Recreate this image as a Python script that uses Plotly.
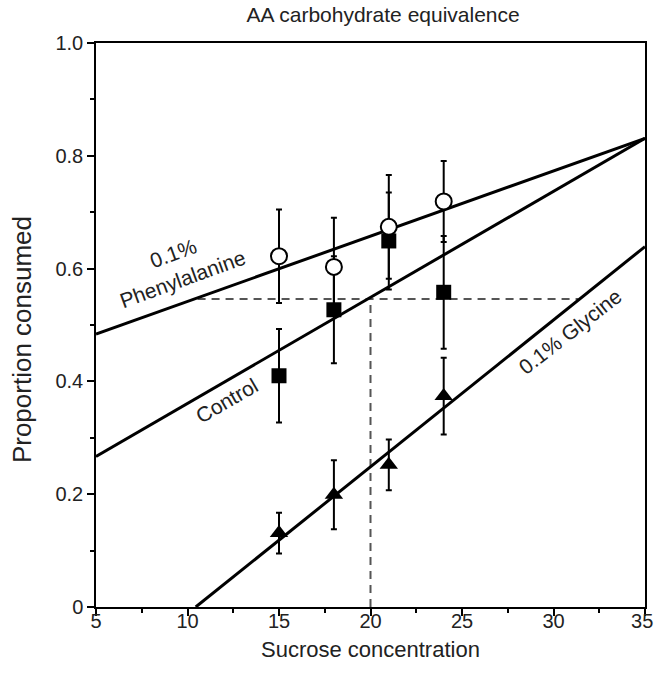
import plotly.graph_objects as go

# ---- data ----
sucrose = [15, 18, 21, 24]

phe_y = [0.622, 0.603, 0.674, 0.719]
phe_err = [0.083, 0.087, 0.092, 0.072]

ctrl_y = [0.410, 0.527, 0.649, 0.558]
ctrl_err = [0.083, 0.095, 0.086, 0.100]

gly_y = [0.131, 0.199, 0.252, 0.374]
gly_err = [0.036, 0.061, 0.045, 0.068]

# fitted lines (end points)
phe_fit_x = [5, 35]
phe_fit_y = [0.484, 0.831]
ctrl_fit_x = [5, 35]
ctrl_fit_y = [0.267, 0.831]
gly_fit_x = [10.45, 35]
gly_fit_y = [0.0, 0.639]

# equivalence guides
equiv_level = 0.546
equiv_h_x = [10.55, 31.35]
equiv_v_x = [20, 20]
equiv_v_y = [0, 0.546]

x_ticks = [5, 10, 15, 20, 25, 30, 35]
x_ticktext = ["5", "10", "15", "20", "25", "30", "35\u00a0"]
y_ticks = [0, 0.2, 0.4, 0.6, 0.8, 1.0]
y_ticktext = ["0", "0.2", "0.4", "0.6", "0.8", "1.0"]

FONT = "Liberation Sans, Arial, sans-serif"
TXT = "#222222"

fig = go.Figure()

# dashed guides
fig.add_trace(go.Scatter(x=equiv_h_x, y=[equiv_level, equiv_level], mode="lines",
                         line=dict(color="#555555", width=2, dash="8px,6px"),
                         showlegend=False, hoverinfo="skip"))
fig.add_trace(go.Scatter(x=equiv_v_x, y=equiv_v_y, mode="lines",
                         line=dict(color="#555555", width=2, dash="8px,6px"),
                         showlegend=False, hoverinfo="skip"))

# fitted lines
for fx, fy in [(phe_fit_x, phe_fit_y), (ctrl_fit_x, ctrl_fit_y), (gly_fit_x, gly_fit_y)]:
    fig.add_trace(go.Scatter(x=fx, y=fy, mode="lines",
                             line=dict(color="black", width=3),
                             showlegend=False, hoverinfo="skip"))

err_style = dict(type="data", visible=True, color="black", thickness=2, width=3)

fig.add_trace(go.Scatter(x=sucrose, y=ctrl_y, mode="markers", name="Control",
                         error_y=dict(array=ctrl_err, **err_style),
                         marker=dict(symbol="square", size=15, color="black"),
                         showlegend=False))
fig.add_trace(go.Scatter(x=sucrose, y=phe_y, mode="markers", name="0.1% Phenylalanine",
                         error_y=dict(array=phe_err, **err_style),
                         marker=dict(symbol="circle", size=16, color="white",
                                     line=dict(color="black", width=2)),
                         showlegend=False))
fig.add_trace(go.Scatter(x=sucrose, y=gly_y, mode="markers", name="0.1% Glycine",
                         error_y=dict(array=gly_err, **err_style),
                         marker=dict(symbol="triangle-up", size=16, color="black"),
                         showlegend=False))

ann_font = dict(family=FONT, size=21, color=TXT)
fig.add_annotation(x=9.47, y=0.604, text="0.1%<br>Phenylalanine", showarrow=False,
                   textangle=-20, font=ann_font, align="center")
fig.add_annotation(x=12.15, y=0.366, text="Control", showarrow=False,
                   textangle=-30, font=ann_font)
fig.add_annotation(x=30.9, y=0.489, text="0.1% Glycine", showarrow=False,
                   textangle=-38, font=ann_font)

# axis titles
fig.add_annotation(x=0.5, y=-0.0762, xref="paper", yref="paper", xanchor="center",
                   yanchor="middle", text="Sucrose concentration", showarrow=False,
                   font=dict(family=FONT, size=22, color=TXT))
fig.add_annotation(x=-0.1348, y=0.475, xref="paper", yref="paper", xanchor="center",
                   yanchor="middle", text="Proportion consumed", showarrow=False,
                   textangle=-90, font=dict(family=FONT, size=26, color=TXT))

axis_common = dict(showline=True, linecolor="black", linewidth=1.5, mirror=True,
                   ticks="outside", ticklen=7, tickwidth=2, tickcolor="black",
                   showgrid=False, zeroline=False, automargin=False,
                   ticklabeloverflow="allow",
                   tickfont=dict(family=FONT, size=20, color=TXT))

fig.update_layout(
    width=654, height=678,
    margin=dict(l=96, r=9, t=43, b=71, autoexpand=False),
    paper_bgcolor="white", plot_bgcolor="white",
    title=dict(text="AA carbohydrate equivalence", x=0.523, xref="paper", xanchor="center",
               yref="container", y=0.978, yanchor="middle", automargin=False,
               font=dict(family=FONT, size=21, color=TXT)),
    xaxis=dict(range=[5, 35], tickvals=x_ticks, ticktext=x_ticktext, ticklabelstandoff=-12,
               minor=dict(dtick=2.5, ticks="outside", ticklen=4, tickwidth=2, tickcolor="black"),
               **axis_common),
    yaxis=dict(range=[0, 1.0], tickvals=y_ticks, ticktext=y_ticktext,
               minor=dict(dtick=0.1, ticks="outside", ticklen=4, tickwidth=2, tickcolor="black"),
               **axis_common),
)

fig.write_html("out.html", config={"displayModeBar": False},
               post_script="document.body.style.margin='0';document.body.style.overflow='hidden';")
